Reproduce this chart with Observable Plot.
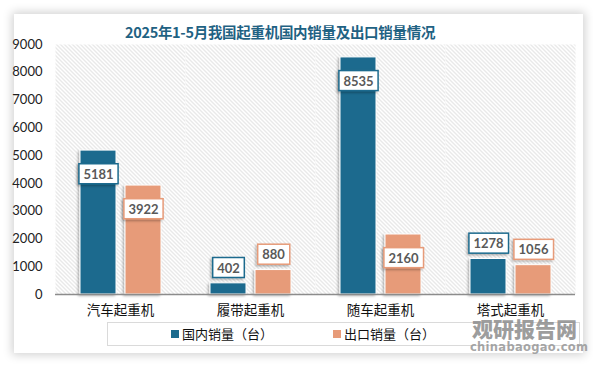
<!DOCTYPE html>
<html>
<head>
<meta charset="utf-8">
<script src="https://cdn.jsdelivr.net/npm/d3@7"></script>
<script src="https://cdn.jsdelivr.net/npm/@observablehq/plot@0.6"></script>
<style>
  html, body { margin: 0; padding: 0; background: #ffffff; }
  #wrap { position: relative; width: 593px; height: 368px; overflow: hidden; }
  #card { position: absolute; left: 14px; top: 14px; width: 569px; height: 339px; background: #fff;
          box-shadow: 0 0 9px 2px rgba(0,0,0,0.18); }
  #title { position: absolute; left: 0; top: 21px; width: 560px; text-align: center;
           font-family: "Noto Sans CJK SC", serif; font-weight: bold; font-size: 14.5px; color: #1f6283; letter-spacing: -0.3px; }
  #chart { position: absolute; left: 0; top: 0; }
  #legend { position: absolute; left: 107px; top: 322px; width: 471px; height: 22px; border: 1.5px solid #dadada; }
  .li { position: absolute; top: 2px; font-family: "Noto Sans CJK SC", sans-serif; font-size: 13px; color: #111; line-height: 18px; }
  .sw { display: inline-block; width: 8px; height: 8px; margin-right: 3px; vertical-align: 1px; }
  #wm1 { position: absolute; left: 472px; top: 313px; font-family: "Noto Sans CJK SC", sans-serif; font-weight: 900; font-size: 21px; color: rgba(140,140,140,0.85); }
  #wm2 { position: absolute; left: 470px; top: 340px; font-family: "DejaVu Sans", sans-serif; font-weight: bold; font-size: 11.5px; color: rgba(150,150,150,0.85); letter-spacing: 0.3px; }
  #chart [aria-label^="y-axis"] text { font-family: Lato, sans-serif; font-size: 13px; fill: #222; }
  #chart [aria-label^="fx-axis"] text { font-family: "Noto Sans CJK SC", sans-serif; font-size: 13.5px; fill: #111; }
</style>
</head>
<body>
<div id="wrap">
  <div id="card"></div>
  <div id="chart"></div>
  <div id="title">2025年1-5月我国起重机国内销量及出口销量情况</div>
  <div id="legend"></div>
  <div id="wm1">观研报告网</div>
  <div id="wm2">chinabaogao.com</div>
</div>
<script>
const categories = ["汽车起重机", "履带起重机", "随车起重机", "塔式起重机"];
const seriesNames = ["国内销量（台）", "出口销量（台）"];
const domesticValues = [5181, 402, 8535, 1278];
const exportValues = [3922, 880, 2160, 1056];
const yTicks = [0, 1000, 2000, 3000, 4000, 5000, 6000, 7000, 8000, 9000];
const colors = ["#1c6b8e", "#e79b79"];

const data = [];
categories.forEach((c, i) => {
  data.push({category: c, series: seriesNames[0], value: domesticValues[i]});
  data.push({category: c, series: seriesNames[1], value: exportValues[i]});
});

const inside = d => d.value > 2000;

const labelMarks = [];
seriesNames.forEach((s, si) => {
  labelMarks.push(Plot.text(data.filter(d => d.series === s && inside(d)), {
    fx: "category", x: "series", y: "value", text: d => String(d.value), dy: 24,
    ariaDescription: "lbl" + si, fill: "#595959", fontWeight: "bold", fontSize: 13, fontFamily: "Lato, sans-serif"
  }));
  labelMarks.push(Plot.text(data.filter(d => d.series === s && !inside(d)), {
    fx: "category", x: "series", y: "value", text: d => String(d.value), dy: -15,
    ariaDescription: "lbl" + si, fill: "#595959", fontWeight: "bold", fontSize: 13, fontFamily: "Lato, sans-serif"
  }));
});

const chart = Plot.plot({
  width: 593,
  height: 368,
  marginLeft: 55,
  marginRight: 18,
  marginTop: 44,
  marginBottom: 74,
  style: {background: "transparent", overflow: "visible"},
  fx: {domain: categories, padding: 0, label: null, tickSize: 0, tickPadding: 11, axis: "bottom"},
  x: {domain: seriesNames, paddingInner: 0.2, paddingOuter: 0.53, axis: null},
  y: {domain: [0, 9000], ticks: yTicks, tickSize: 0, tickPadding: 13, label: null, tickFormat: d => String(d)},
  color: {domain: seriesNames, range: colors},
  marks: [
    Plot.frame({fill: "white", stroke: null, ariaDescription: "bgframe"}),
    Plot.barY(data, {fx: "category", x: "series", y: "value", fill: "series", stroke: "#ffffff", strokeWidth: 1, ariaDescription: "bars"}),
    Plot.ruleY([0], {stroke: "#8c8c8c", strokeWidth: 1.5}),
    ...labelMarks
  ]
});

document.getElementById("chart").appendChild(chart);

const ns = "http://www.w3.org/2000/svg";
function el(name, attrs, parent) {
  const e = document.createElementNS(ns, name);
  for (const k in attrs) e.setAttribute(k, attrs[k]);
  if (parent) parent.appendChild(e);
  return e;
}
const defs = el("defs", {});
const pat = el("pattern", {id: "hatchp", patternUnits: "userSpaceOnUse", width: 4, height: 4}, defs);
el("rect", {width: 4, height: 4, fill: "#ffffff"}, pat);
el("path", {d: "M-1,-1 L5,5 M-1,3 L1,5 M3,-1 L5,1", stroke: "#cdcdcd", "stroke-width": 0.9}, pat);
const flt = el("filter", {id: "shadowf", x: "-30%", y: "-30%", width: "160%", height: "160%"}, defs);
el("feDropShadow", {dx: -1.5, dy: 1.5, stdDeviation: 1.3, "flood-color": "#000000", "flood-opacity": 0.3}, flt);
chart.insertBefore(defs, chart.firstChild);

chart.querySelectorAll('[aria-description="bgframe"] rect, rect[aria-description="bgframe"]').forEach(r => {
  r.setAttribute("fill", "url(#hatchp)");
});

chart.querySelectorAll('[aria-description="bars"] rect').forEach(r => r.setAttribute("filter", "url(#shadowf)"));

// label boxes
[0, 1].forEach(si => {
  chart.querySelectorAll(`[aria-description="lbl${si}"] text`).forEach(t => {
    const b = t.getBBox();
    const w = b.width + 9, h = 20;
    const rect = el("rect", {
      x: b.x + b.width / 2 - w / 2, y: b.y + b.height / 2 - h / 2, width: w, height: h,
      fill: "#ffffff", stroke: colors[si], "stroke-width": 1.5, filter: "url(#shadowf)"
    });
    const tr = t.getAttribute("transform");
    if (tr) rect.setAttribute("transform", tr);
    t.parentNode.insertBefore(rect, t);
  });
});

// legend
const legend = document.getElementById("legend");
const legendX = [63, 225];
seriesNames.forEach((s, i) => {
  const item = document.createElement("div");
  item.className = "li";
  item.style.left = legendX[i] + "px";
  item.innerHTML = `<span class="sw" style="background:${colors[i]}"></span>${s}`;
  legend.appendChild(item);
});
</script>
</body>
</html>
